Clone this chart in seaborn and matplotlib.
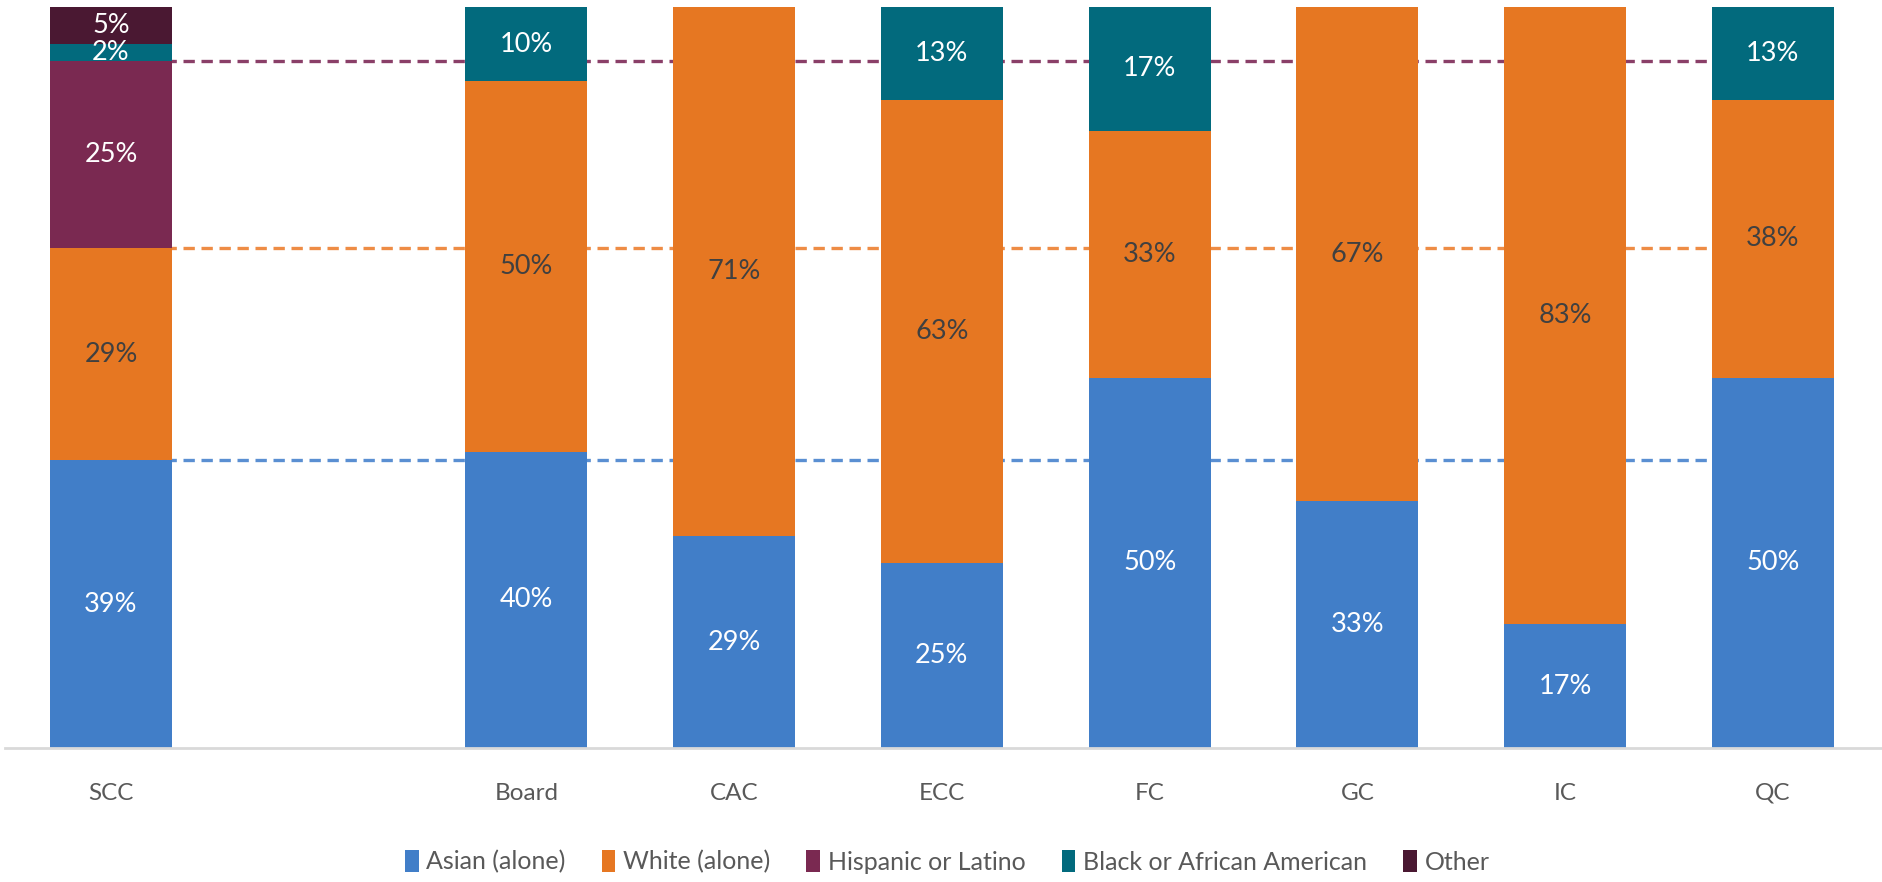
import matplotlib
matplotlib.use("Agg")
import matplotlib.pyplot as plt
import seaborn as sns
import pandas as pd
import numpy as np
from matplotlib.patches import Patch

sns.set_theme(style="white")
plt.rcParams['font.family'] = ['Lato', 'DejaVu Sans']

categories = ["SCC", " ", "Board", "CAC", "ECC", "FC", "GC", "IC", "QC"]
groups = ["SCC", "Board", "CAC", "ECC", "FC", "GC", "IC", "QC"]
series = ["Asian (alone)", "White (alone)", "Hispanic or Latino", "Black or African American", "Other"]

asian    = [38.8, 40.0, 28.57, 25.0, 50.0, 33.33, 16.67, 50.0]
white    = [28.7, 50.0, 71.43, 62.5, 33.33, 66.67, 83.33, 37.5]
hispanic = [25.2, 0.0, 0.0, 0.0, 0.0, 0.0, 0.0, 0.0]
black    = [2.3, 10.0, 0.0, 12.5, 16.67, 0.0, 0.0, 12.5]
other    = [5.0, 0.0, 0.0, 0.0, 0.0, 0.0, 0.0, 0.0]

colors = ["#417EC8", "#E67722", "#7A2951", "#026A7D", "#4A1832"]
line_colors = ["#5A8FD2", "#EE8C45", "#8A3F68"]
text_colors = ["white", "#404040", "white", "white", "white"]

values = [asian, white, hispanic, black, other]
df = pd.DataFrame({"group": groups})
for s, v in zip(series, values):
    df[s] = v
cum = df[series].cumsum(axis=1)
cum["group"] = df["group"]

fig = plt.figure(figsize=(18.83, 8.82), dpi=100)
ax = fig.add_axes([5/1883, 1 - 748/882, 1 - 5/1883, (748 - 7)/882])

# Reference dashed lines at SCC cumulative levels, drawn behind bars
for i in range(3):
    level = cum.loc[0, series[i]]
    ax.plot([categories.index("SCC"), categories.index("QC")], [level, level],
            color=line_colors[i], lw=2.4, dashes=(3.4, 2.0), zorder=1)

# Stacked bars by overdrawing cumulative totals (top layer first)
for i in reversed(range(len(series))):
    sns.barplot(data=cum, x="group", y=series[i],
                order=categories, color=colors[i], saturation=1, width=0.587,
                ax=ax, zorder=2, linewidth=0)

# Data labels
for j, g in enumerate(groups):
    xpos = categories.index(g)
    base = 0.0
    for i, s in enumerate(series):
        v = df.loc[j, s]
        if v > 0:
            ax.text(xpos, base + v / 2, f"{int(np.floor(v + 0.5))}%",
                    ha="center", va="center", fontsize=19.5, color=text_colors[i], zorder=5)
        base += v

ax.set_ylim(0, 100)
ax.set_xlim(-0.51, 8.53)
ax.set_xlabel("")
ax.set_ylabel("")
ax.set_yticks([])
for sp in ["top", "right", "left"]:
    ax.spines[sp].set_visible(False)
ax.spines["bottom"].set_color("#D9D9D9")
ax.spines["bottom"].set_linewidth(2)
ax.tick_params(axis="x", length=0, pad=25, labelsize=17.5, labelcolor="#595959")

handles = [Patch(facecolor=c, edgecolor="none", label=s) for c, s in zip(colors, series)]
fig.legend(handles=handles, loc="center", bbox_to_anchor=(0.503, 0.023), ncol=5,
           frameon=False, fontsize=18, labelcolor="#595959", handlelength=0.55,
           handleheight=1.0, handletextpad=0.3, columnspacing=1.45)

fig.savefig("out.png", dpi=100)
